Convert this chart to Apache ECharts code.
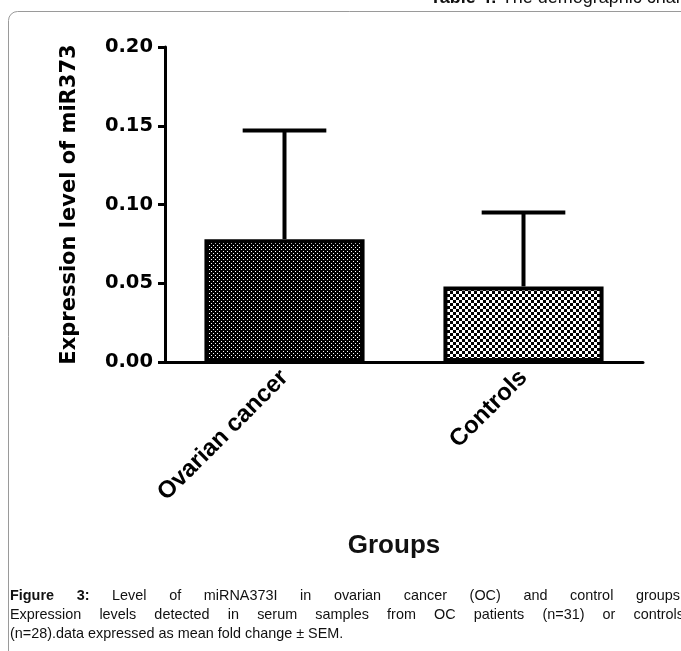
<!DOCTYPE html>
<html>
<head>
<meta charset="utf-8">
<script src="https://cdn.jsdelivr.net/npm/echarts@6/dist/echarts.min.js"></script>
<style>
  html, body { margin: 0; padding: 0; background: #fff; }
  #chart { width: 681px; height: 651px; }
</style>
</head>
<body>
<div id="chart"></div>
<script>
// Groups and their mean fold change with SEM
const categories = ['Ovarian cancer', 'Controls'];
const means = [0.078, 0.048];
const sems = [0.069, 0.047];

// Value axis range
const yMin = 0;
const yMax = 0.2;
const yStep = 0.05;

const SANS = '"Liberation Sans", Arial, sans-serif';
const WIDE = '"DejaVu Sans", Verdana, sans-serif';
const CAPTION_SCALE = 0.96;

// Tiled fills for the two bars
function makePattern(size, squares, sq) {
  const c = document.createElement('canvas');
  c.width = size; c.height = size;
  const g = c.getContext('2d');
  g.fillStyle = '#000';
  g.fillRect(0, 0, size, size);
  g.fillStyle = '#fff';
  squares.forEach(p => g.fillRect(p[0], p[1], sq, sq));
  return c;
}
const densePattern = makePattern(4, [[1, 1], [3, 3]], 1);
const checkPattern = makePattern(6, [[0, 0], [3, 3]], 3);
const barFills = [densePattern, checkPattern];

// Caption lines; words in the first line up to "3:" are bold
const captionLines = [
  { words: 'Figure 3: Level of miRNA373I in ovarian cancer (OC) and control groups.'.split(' '), boldCount: 2, justify: true },
  { words: 'Expression levels detected in serum samples from OC patients (n=31) or controls'.split(' '), boldCount: 0, justify: true },
  { words: '(n=28).data expressed as mean fold change ± SEM.'.split(' '), boldCount: 0, justify: false }
];

const measureCtx = document.createElement('canvas').getContext('2d');
function textWidth(t, font) { measureCtx.font = font; return measureCtx.measureText(t).width; }

function wordText(w, x, y, font, sx, vAlign) {
  return { type: 'text', silent: true, x: x, y: y, scaleX: sx,
    style: { text: w, x: 0, y: 0, font: font, fill: '#111', verticalAlign: vAlign } };
}

// Justified caption: extra room goes into the gaps between words
function captionGraphics() {
  const out = [];
  const x0 = 10, x1 = 684, size = 15, lineY = [596, 615, 634];
  captionLines.forEach((line, li) => {
    const fonts = line.words.map((w, i) => (i < line.boldCount ? 'bold ' : '') + size + 'px ' + SANS);
    const widths = line.words.map((w, i) => textWidth(w, fonts[i]) * CAPTION_SCALE);
    const total = widths.reduce((a, b) => a + b, 0);
    const gap = line.justify ? (x1 - x0 - total) / (line.words.length - 1)
                             : textWidth(' ', fonts[0]) * CAPTION_SCALE;
    let x = x0;
    line.words.forEach((w, i) => {
      out.push(wordText(w, x, lineY[li], fonts[i], CAPTION_SCALE, 'middle'));
      x += widths[i] + gap;
    });
  });
  return out;
}

const chart = echarts.init(document.getElementById('chart'), null, { renderer: 'canvas' });

const errData = means.map((m, i) => [i, m, sems[i]]);
const headBold = 'bold 18px ' + SANS;
const headPlain = '18px ' + SANS;

chart.setOption({
  backgroundColor: '#fff',
  animation: false,
  grid: { left: 165, right: 38, top: 47, bottom: 289, containLabel: false },
  xAxis: {
    type: 'category',
    data: categories,
    axisLine: { lineStyle: { color: '#000', width: 3 } },
    axisTick: { alignWithLabel: true, length: 7, lineStyle: { color: '#000', width: 3 } },
    axisLabel: { rotate: 45, margin: 12, color: '#000', fontWeight: 'bold', fontSize: 24, fontFamily: SANS }
  },
  yAxis: {
    type: 'value',
    min: yMin, max: yMax, interval: yStep,
    name: 'Expression level of miR373',
    nameLocation: 'middle',
    nameGap: 85,
    nameTextStyle: { color: '#000', fontWeight: 'bold', fontSize: 21, fontFamily: WIDE },
    axisLine: { show: true, lineStyle: { color: '#000', width: 3 } },
    axisTick: { show: true, length: 7, lineStyle: { color: '#000', width: 3 } },
    splitLine: { show: false },
    axisLabel: { margin: 12, color: '#000', fontWeight: 'bold', fontSize: 19.5, fontFamily: WIDE, formatter: v => v.toFixed(2) }
  },
  series: [
    {
      type: 'bar',
      barWidth: '67%',
      z: 2,
      data: means.map((m, i) => ({
        value: m,
        itemStyle: { color: { image: barFills[i], repeat: 'repeat' }, borderColor: '#000', borderWidth: 4 }
      }))
    },
    {
      type: 'custom',
      z: 3,
      data: errData,
      renderItem: function (params, api) {
        const i = api.value(0), m = api.value(1), s = api.value(2);
        const base = api.coord([i, m]);
        const top = api.coord([i, m + s]);
        const half = api.size([1, 0])[0] * 0.175;
        const st = { stroke: '#000', lineWidth: 4 };
        return {
          type: 'group',
          children: [
            { type: 'line', shape: { x1: base[0], y1: base[1], x2: top[0], y2: top[1] }, style: st },
            { type: 'line', shape: { x1: top[0] - half, y1: top[1], x2: top[0] + half, y2: top[1] }, style: st }
          ]
        };
      }
    }
  ],
  graphic: [
    // panel frame
    { type: 'rect', silent: true, z: -1, shape: { x: 8.5, y: 11.5, width: 900, height: 900, r: 9 }, style: { fill: 'none', stroke: '#9a9a9a', lineWidth: 1 } },
    // header running across the top
    wordText('Table 4:', 430, 7, headBold, 1, 'bottom'),
    wordText('The demographic characteristics', 430 + textWidth('Table 4: ', headBold), 7, headPlain, 1, 'bottom'),
    // category axis title
    { type: 'text', silent: true, style: { text: 'Groups', x: 394, y: 546, font: 'bold 26px ' + SANS, fill: '#111', align: 'center', verticalAlign: 'middle' } }
  ].concat(captionGraphics())
});
</script>
</body>
</html>
